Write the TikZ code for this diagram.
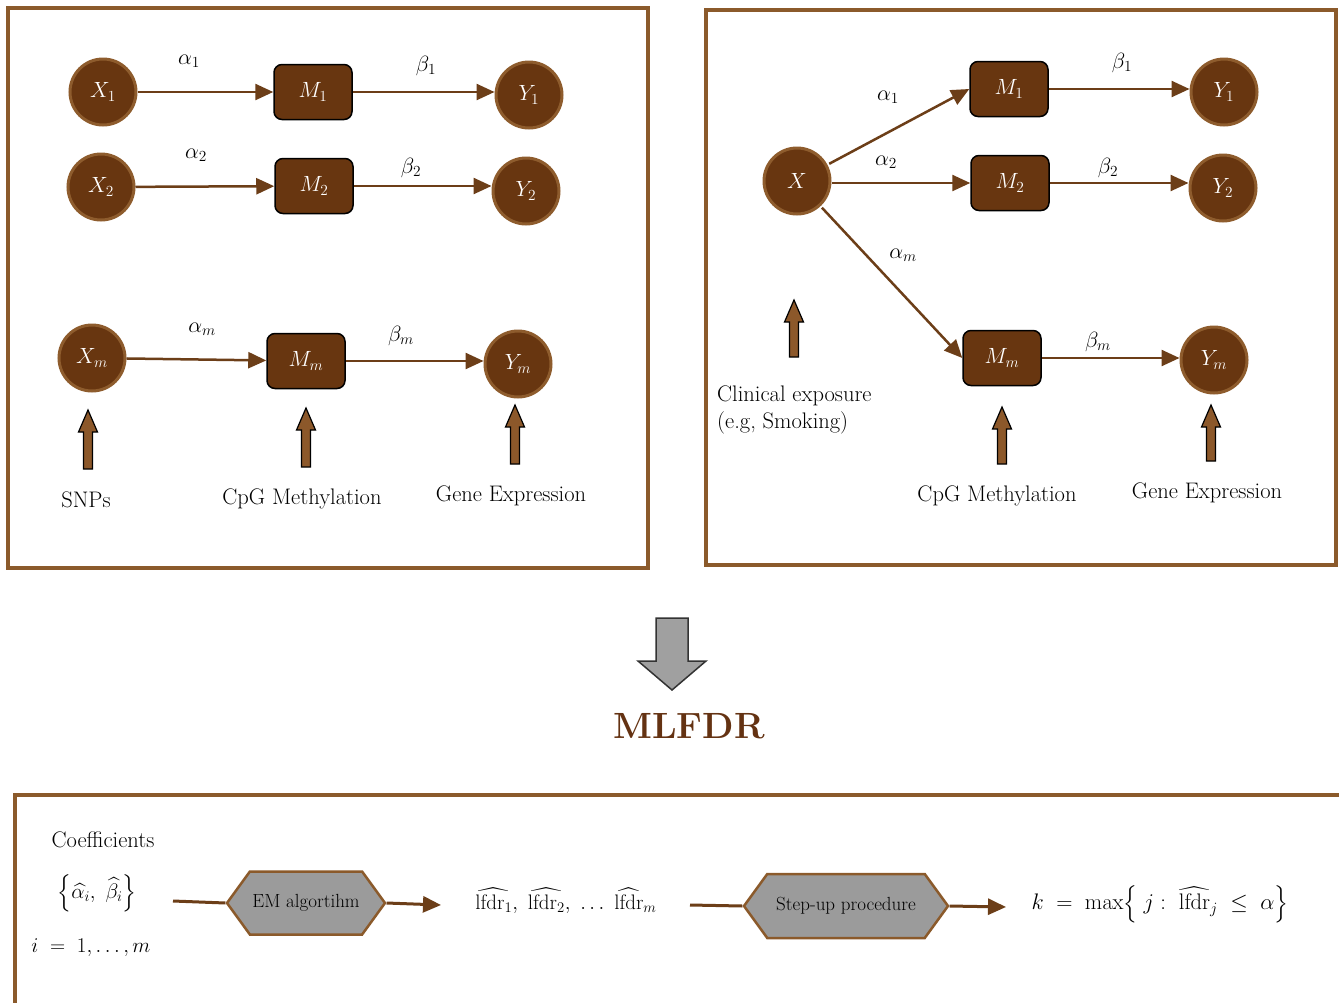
\RequirePackage{fix-cm}
\documentclass[tikz,border=0pt]{standalone}
\usepackage{amsmath}
\usetikzlibrary{arrows.meta,shapes.symbols}
\definecolor{nodeBrown}{RGB}{104,54,16}
\definecolor{circBorder}{RGB}{142,92,45}
\definecolor{frameBrown}{RGB}{139,90,43}
\definecolor{arrBrown}{RGB}{108,62,24}
\definecolor{blockBrown}{RGB}{140,88,42}
\definecolor{titleBrown}{RGB}{100,50,18}
\definecolor{hexGray}{RGB}{155,155,155}
\definecolor{bigGray}{RGB}{160,160,160}
\tikzset{
  frame/.style={draw=frameBrown,line width=4},
  circ/.style={circle,fill=nodeBrown,draw=circBorder,line width=3,minimum size=66,inner sep=0,text=white,font=\fontsize{22}{26}\selectfont},
  mbox/.style={rectangle,rounded corners=8,fill=nodeBrown,draw=black,line width=1.5,minimum width=78,minimum height=55,inner sep=0,text=white,font=\fontsize{22}{26}\selectfont},
  conn/.style={draw=arrBrown,line width=2.5,-{Triangle[length=18,width=16]}},
  plain/.style={draw=arrBrown,line width=3},
  lab/.style={inner sep=0,font=\fontsize{22}{26}\selectfont},
  txt/.style={inner sep=0,font=\fontsize{22.5}{27}\selectfont},
  mtxt/.style={inner sep=0,font=\fontsize{21}{25}\selectfont},
  blockarr/.style={fill=blockBrown,draw=black,line width=1.2},
  hexa/.style={signal,signal to=east and west,fill=hexGray,draw=frameBrown,line width=2.5,inner sep=0,font=\fontsize{19}{22}\selectfont},
}
\newcommand{\uparrowblock}[3]{%
  \draw[blockarr] (#1-4.5,#3) -- (#1-4.5,#2+22) -- (#1-9.5,#2+22) -- (#1,#2) -- (#1+9.5,#2+22) -- (#1+4.5,#2+22) -- (#1+4.5,#3) -- cycle;}
\begin{document}
\begin{tikzpicture}[x=1pt,y=-1pt]
\useasboundingbox (0,0) rectangle (1339,1002);
\clip (0,0) rectangle (1339,1002);
\fill[white] (0,0) rectangle (1339,1002);

% frames
\draw[frame] (8,8) rectangle (648,568);
\draw[frame] (706,10) rectangle (1336,565);
\draw[frame] (15,1020) -- (15,795) -- (1360,795);

% ---------- left panel ----------
\node[circ] (X1) at (103,92) {$X_1$};
\node[mbox] (M1) at (313,92) {$M_1$};
\node[circ] (Y1) at (529,95) {$Y_1$};
\node[circ] (X2) at (101,187) {$X_2$};
\node[mbox] (M2) at (314,186) {$M_2$};
\node[circ] (Y2) at (526,191) {$Y_2$};
\node[circ] (Xm) at (92,358) {$X_m$};
\node[mbox] (Mm) at (306,361) {$M_m$};
\node[circ] (Ym) at (518,364) {$Y_m$};

\draw[conn] (X1) -- (M1);
\draw[conn] (M1.east) -- (Y1.west |- M1.east);
\draw[conn] (X2) -- (M2);
\draw[conn] (M2.east) -- (Y2.west |- M2.east);
\draw[conn] (Xm) -- (Mm);
\draw[conn] (Mm.east) -- (Ym.west |- Mm.east);

\node[lab] (la1) at (189,61) {$\alpha_1$};
\node[lab] (lb1) at (426,66) {$\beta_1$};
\node[lab] (la2) at (196,155) {$\alpha_2$};
\node[lab] (lb2) at (411,168) {$\beta_2$};
\node[lab] (lam) at (202,329) {$\alpha_m$};
\node[lab] (lbm) at (401,336) {$\beta_m$};

\uparrowblock{88}{410}{469}
\uparrowblock{306}{408}{467}
\uparrowblock{515}{405}{464}

\node[txt] (snp) at (86,500) {SNPs};
\node[txt] (cpgL) at (302,499) {CpG Methylation};
\node[txt] (geL) at (511,496) {Gene Expression};

% ---------- right panel ----------
\node[circ] (X) at (797,181) {$X$};
\node[mbox] (RM1) at (1009,89) {$M_1$};
\node[mbox] (RM2) at (1010,183) {$M_2$};
\node[mbox] (RMm) at (1002,358) {$M_m$};
\node[circ] (RY1) at (1224,92) {$Y_1$};
\node[circ] (RY2) at (1223,188) {$Y_2$};
\node[circ] (RYm) at (1214,360) {$Y_m$};

\draw[conn,shorten <=2] (X) -- (RM1.west);
\draw[conn] (X.east |- RM2.west) -- (RM2.west);
\draw[conn,shorten <=2] (X) -- (RMm.west);
\draw[conn] (RM1.east) -- (RY1.west |- RM1.east);
\draw[conn] (RM2.east) -- (RY2.west |- RM2.east);
\draw[conn] (RMm.east) -- (RYm.west |- RMm.east);

\node[lab] (ra1) at (888,97) {$\alpha_1$};
\node[lab] (ra2) at (886,162) {$\alpha_2$};
\node[lab] (ram) at (903,255) {$\alpha_m$};
\node[lab] (rb1) at (1122,63) {$\beta_1$};
\node[lab] (rb2) at (1108,168) {$\beta_2$};
\node[lab] (rbm) at (1098,342) {$\beta_m$};

\uparrowblock{794}{300}{357}
\uparrowblock{1002}{407}{464}
\uparrowblock{1211}{405}{461}

\node[txt,anchor=west,align=left] (clin) at (717,410) {Clinical exposure\\(e.g, Smoking)};
\node[txt] (cpgR) at (997,496) {CpG Methylation};
\node[txt] (geR) at (1207,493) {Gene Expression};

% ---------- middle ----------
\draw[fill=bigGray,draw=black!80,line width=1.5] (656,618) -- (688,618) -- (688,661) -- (706,661) -- (672,690) -- (638,661) -- (656,661) -- cycle;
\node[inner sep=0,text=titleBrown,font=\fontsize{36.5}{42}\selectfont\bfseries] (title) at (689,726) {MLFDR};

% ---------- bottom ----------
\node[txt] (coef) at (103,840) {Coefficients};
\node[mtxt] (set) at (97,893) {$\Bigl\{\widehat{\alpha_i},\ \widehat{\beta_i}\Bigr\}$};
\node[mtxt] (idx) at (91,948) {$i \;=\; 1,\ldots,m$};
\coordinate (c0) at (173,901);
\node[hexa,minimum width=158,minimum height=63,signal pointer angle=108] (em) at (306,903) {EM algortihm};
\coordinate (e1) at (441,905);
\node[mtxt] (lfdr) at (566,901) {$\widehat{\mathrm{lfdr}_1},\ \widehat{\mathrm{lfdr}_2},\ \ldots\ \widehat{\mathrm{lfdr}}_m$};
\coordinate (c1) at (690,905);
\node[hexa,minimum width=204,minimum height=64,signal pointer angle=108] (step) at (846,906) {Step-up procedure};
\coordinate (e2) at (1006,907);
\node[inner sep=0,font=\fontsize{22.5}{27}\selectfont] (res) at (1160,904) {$k \;=\; \max\Bigl\{\; j:\ \widehat{\mathrm{lfdr}}_j \;\le\; \alpha\Bigr\}$};

\draw[plain] (c0) -- (em.west);
\draw[conn,line width=3] (em.east) -- (e1);
\draw[plain] (c1) -- (step.west);
\draw[conn,line width=3] (step.east) -- (e2);
\end{tikzpicture}
\end{document}
